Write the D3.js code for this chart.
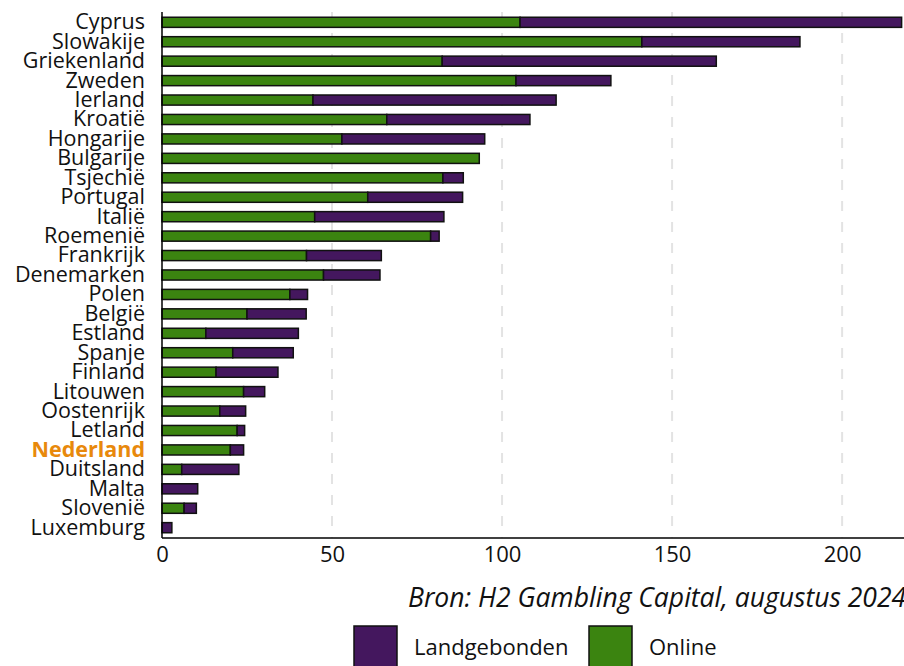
<!DOCTYPE html>
<html>
<head>
<meta charset="utf-8">
<script src="https://cdn.jsdelivr.net/npm/d3@7"></script>
<style>
  body { margin: 0; background: #fff; }
  text { font-family: "Open Sans", sans-serif; }
</style>
</head>
<body>
<svg width="904" height="666"></svg>
<script>
// data (billions, roughly)
const countries = ['Cyprus', 'Slowakije', 'Griekenland', 'Zweden', 'Ierland', 'Kroatië', 'Hongarije',
  'Bulgarije', 'Tsjechië', 'Portugal', 'Italië', 'Roemenië', 'Frankrijk', 'Denemarken', 'Polen',
  'België', 'Estland', 'Spanje', 'Finland', 'Litouwen', 'Oostenrijk', 'Letland', 'Nederland',
  'Duitsland', 'Malta', 'Slovenië', 'Luxemburg']
const online = [105.3, 141.1, 82.4, 104.1, 44.4, 66.1, 52.9, 93.3, 82.6, 60.5, 44.9, 79.0, 42.5, 47.5,
  37.6, 25.0, 12.9, 20.8, 15.9, 24.0, 17.0, 22.1, 20.1, 5.8, 0, 6.5, 0]
const landgebonden = [112.2, 46.5, 80.6, 27.9, 71.5, 42.1, 42.0, 0, 6.0, 27.9, 38.0, 2.5, 22.0, 16.6,
  5.2, 17.4, 27.2, 17.8, 18.2, 6.2, 7.6, 2.2, 3.9, 16.8, 10.5, 3.6, 2.9]
const xTicks = [0, 50, 100, 150, 200]
const highlight = 'Nederland'
const source = 'Bron: H2 Gambling Capital, augustus 2024'

const colors = { Online: '#3b8410', Landgebonden: '#44175e' }

const svg = d3.select('svg')
const width = +svg.attr('width')

const margin = { top: 12, left: 162, bottom: 538 }

const rows = countries.map((c, i) => ({ country: c, Online: online[i], Landgebonden: landgebonden[i] }))
const stacked = d3.stack().keys(['Online', 'Landgebonden'])(rows)

const xScale = d3.scaleLinear()
  .domain([0, 218.2])
  .range([margin.left, width])

const yScale = d3.scaleBand()
  .domain(countries)
  .range([margin.top, margin.bottom])
  .paddingInner(0.48)
  .paddingOuter(0.27)

// dashed grid
svg.append('g')
  .selectAll('line')
  .data(xTicks.filter(d => d > 0))
  .enter().append('line')
  .attr('x1', d => xScale(d))
  .attr('x2', d => xScale(d))
  .attr('y1', margin.top)
  .attr('y2', margin.bottom)
  .attr('stroke', '#e3e3e3')
  .attr('stroke-width', 2)
  .attr('stroke-dasharray', '10,11')

// bars
svg.append('g')
  .selectAll('g')
  .data(stacked)
  .enter().append('g')
  .attr('fill', d => colors[d.key])
  .selectAll('rect')
  .data(d => d.filter(p => p[1] - p[0] > 0))
  .enter().append('rect')
  .attr('x', d => xScale(d[0]))
  .attr('width', d => xScale(d[1]) - xScale(d[0]))
  .attr('y', d => yScale(d.data.country))
  .attr('height', yScale.bandwidth())
  .attr('stroke', '#111')
  .attr('stroke-width', 1.5)

// axes
const yAxis = d3.axisLeft(yScale).tickSize(0).tickPadding(17)
const yAxisG = svg.append('g')
  .attr('transform', `translate(${margin.left}, 0)`)
  .call(yAxis)
yAxisG.select('.domain').attr('stroke', '#000').attr('stroke-width', 1.5)
  .attr('d', `M0,${margin.top}V${margin.bottom}`)
yAxisG.selectAll('text')
  .attr('font-size', 21.5)
  .attr('font-family', '"Open Sans", sans-serif')
  .attr('fill', d => d === highlight ? '#e8890c' : '#111')
  .attr('font-weight', d => d === highlight ? 700 : 400)

const xAxis = d3.axisBottom(xScale).tickValues(xTicks).tickSize(0).tickPadding(8)
const xAxisG = svg.append('g')
  .attr('transform', `translate(0, ${margin.bottom})`)
  .call(xAxis)
xAxisG.select('.domain').attr('stroke', '#000').attr('stroke-width', 1.5)
  .attr('d', `M${margin.left},0H${width}`)
xAxisG.selectAll('text')
  .attr('font-size', 22)
  .attr('font-family', '"Open Sans", sans-serif')
  .attr('fill', '#111')

// source line
svg.append('text')
  .attr('x', 408)
  .attr('y', 607)
  .attr('font-size', 26.5)
  .attr('font-style', 'italic')
  .attr('fill', '#111')
  .text(source)

// legend
const legend = svg.append('g')
const legendItems = [
  { key: 'Landgebonden', x: 354 },
  { key: 'Online', x: 589 }
]
legend.selectAll('rect')
  .data(legendItems)
  .enter().append('rect')
  .attr('x', d => d.x)
  .attr('y', 626)
  .attr('width', 43)
  .attr('height', 44)
  .attr('fill', d => colors[d.key])
  .attr('stroke', '#111')
  .attr('stroke-width', 1.5)
legend.selectAll('text')
  .data(legendItems)
  .enter().append('text')
  .attr('x', d => d.x + 60)
  .attr('y', 655)
  .attr('font-size', 22)
  .attr('fill', '#111')
  .text(d => d.key)
</script>
</body>
</html>
